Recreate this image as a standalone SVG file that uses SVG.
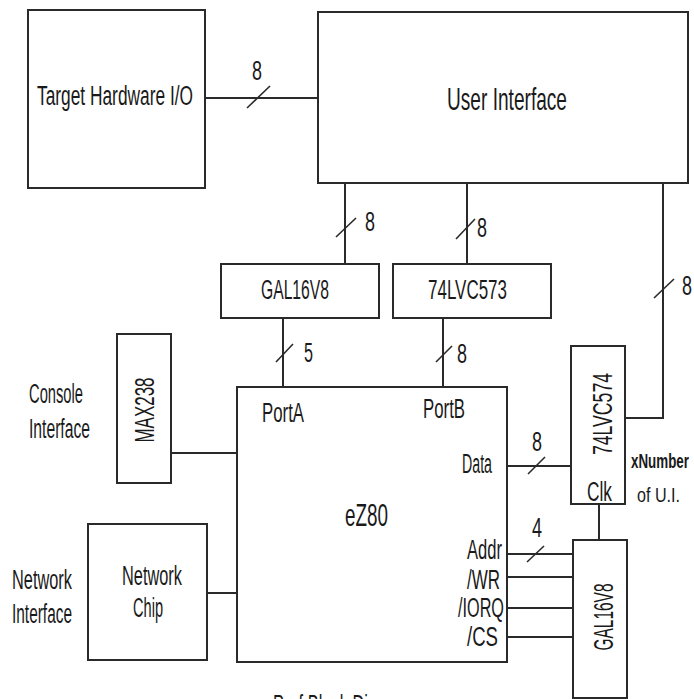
<svg xmlns="http://www.w3.org/2000/svg" width="694" height="699" viewBox="0 0 694 699">
<style>
rect.box{fill:none;stroke:#2a2a2a;stroke-width:2}
.wire line,.wire polyline{stroke:#2a2a2a;stroke-width:2;fill:none}
.wire line.sl{stroke-width:1.6}
text{font-family:"Liberation Sans",Arial,sans-serif;font-size:27px;fill:#1a1a1a}
text.big{font-size:32px}
text.sm{font-size:20px}
</style>
<rect width="694" height="699" fill="#ffffff"/>
<g id="target">
<rect class="box" x="28" y="10" width="177" height="178"/>
<text x="37" y="105" font-size="28" textLength="156" lengthAdjust="spacingAndGlyphs">Target Hardware I/O</text>
</g>
<g id="ui">
<rect class="box" x="318" y="12" width="370" height="171"/>
<text class="big" x="447" y="110" textLength="120" lengthAdjust="spacingAndGlyphs">User Interface</text>
</g>
<g id="gal_top">
<rect class="box" x="221" y="264" width="158" height="54"/>
<text x="261" y="299" textLength="68" lengthAdjust="spacingAndGlyphs">GAL16V8</text>
</g>
<g id="lvc573">
<rect class="box" x="393" y="264" width="158" height="54"/>
<text x="428" y="299" textLength="79" lengthAdjust="spacingAndGlyphs">74LVC573</text>
</g>
<g id="lvc574">
<rect class="box" x="571" y="346" width="54" height="158"/>
<text transform="translate(612,414) rotate(-90)" x="0" y="0" text-anchor="middle" textLength="82" lengthAdjust="spacingAndGlyphs">74LVC574</text>
<text x="587" y="501" textLength="25" lengthAdjust="spacingAndGlyphs">Clk</text>
</g>
<g id="max238">
<rect class="box" x="117" y="334" width="54" height="149"/>
<text transform="translate(154,410) rotate(-90)" x="0" y="0" text-anchor="middle" textLength="65" lengthAdjust="spacingAndGlyphs">MAX238</text>
</g>
<g id="netchip">
<rect class="box" x="88" y="524" width="119" height="136"/>
<text x="122" y="585" textLength="60" lengthAdjust="spacingAndGlyphs">Network</text>
<text x="133" y="617" textLength="30" lengthAdjust="spacingAndGlyphs">Chip</text>
</g>
<g id="ez80">
<rect class="box" x="237" y="387" width="270" height="275"/>
<text class="big" x="345" y="526" textLength="43" lengthAdjust="spacingAndGlyphs">eZ80</text>
<text x="262" y="422" textLength="42" lengthAdjust="spacingAndGlyphs">PortA</text>
<text x="423" y="418" textLength="42" lengthAdjust="spacingAndGlyphs">PortB</text>
<text x="462" y="473" textLength="30" lengthAdjust="spacingAndGlyphs">Data</text>
<text x="467" y="559" textLength="35" lengthAdjust="spacingAndGlyphs">Addr</text>
<text x="467" y="589" textLength="33" lengthAdjust="spacingAndGlyphs">/WR</text>
<text x="458" y="617" textLength="46" lengthAdjust="spacingAndGlyphs">/IORQ</text>
<text x="467" y="646" textLength="31" lengthAdjust="spacingAndGlyphs">/CS</text>
</g>
<g id="gal_bottom">
<rect class="box" x="573" y="540" width="54" height="158"/>
<text transform="translate(613,617) rotate(-90)" x="0" y="0" text-anchor="middle" textLength="67" lengthAdjust="spacingAndGlyphs">GAL16V8</text>
</g>
<g id="labels">
<text x="29" y="403" textLength="54" lengthAdjust="spacingAndGlyphs">Console</text>
<text x="29" y="438" textLength="61" lengthAdjust="spacingAndGlyphs">Interface</text>
<text x="12" y="589" textLength="60" lengthAdjust="spacingAndGlyphs">Network</text>
<text x="12" y="623" textLength="60" lengthAdjust="spacingAndGlyphs">Interface</text>
<text class="sm" x="631" y="468" font-weight="bold" textLength="58" lengthAdjust="spacingAndGlyphs">xNumber</text>
<text class="sm" x="637" y="502" textLength="43" lengthAdjust="spacingAndGlyphs">of U.I.</text>
<text x="273" y="714" textLength="95" lengthAdjust="spacingAndGlyphs">Prof Block Di</text>
</g>
<g id="connectors" class="wire">
<line x1="205" y1="98" x2="318" y2="98"/>
<line class="sl" x1="247" y1="108" x2="270" y2="86"/>
<line x1="345" y1="183" x2="345" y2="264"/>
<line class="sl" x1="336" y1="237" x2="356" y2="218"/>
<line x1="467" y1="183" x2="467" y2="264"/>
<line class="sl" x1="456" y1="239" x2="475" y2="219"/>
<polyline points="663,183 663,418 625,418"/>
<line class="sl" x1="654" y1="298" x2="674" y2="279"/>
<line x1="283" y1="318" x2="283" y2="387"/>
<line class="sl" x1="276" y1="362" x2="293" y2="344"/>
<line x1="443" y1="318" x2="443" y2="387"/>
<line class="sl" x1="436" y1="362" x2="452" y2="346"/>
<line x1="171" y1="453" x2="237" y2="453"/>
<line x1="207" y1="593" x2="237" y2="593"/>
<line x1="507" y1="466" x2="571" y2="466"/>
<line class="sl" x1="528" y1="474" x2="545" y2="457"/>
<line x1="599" y1="504" x2="599" y2="540"/>
<line x1="507" y1="554" x2="573" y2="554"/>
<line class="sl" x1="527" y1="562" x2="544" y2="546"/>
<line x1="507" y1="577" x2="573" y2="577"/>
<line x1="507" y1="608" x2="573" y2="608"/>
<line x1="507" y1="637" x2="573" y2="637"/>
</g>
<g id="bus_widths">
<text x="252" y="80" textLength="10" lengthAdjust="spacingAndGlyphs">8</text>
<text x="365" y="231" textLength="10" lengthAdjust="spacingAndGlyphs">8</text>
<text x="477" y="237" textLength="10" lengthAdjust="spacingAndGlyphs">8</text>
<text x="304" y="362" textLength="9" lengthAdjust="spacingAndGlyphs">5</text>
<text x="457" y="363" textLength="10" lengthAdjust="spacingAndGlyphs">8</text>
<text x="682" y="295" textLength="10" lengthAdjust="spacingAndGlyphs">8</text>
<text x="532" y="451" textLength="10" lengthAdjust="spacingAndGlyphs">8</text>
<text x="532" y="537" textLength="10" lengthAdjust="spacingAndGlyphs">4</text>
</g>
</svg>
